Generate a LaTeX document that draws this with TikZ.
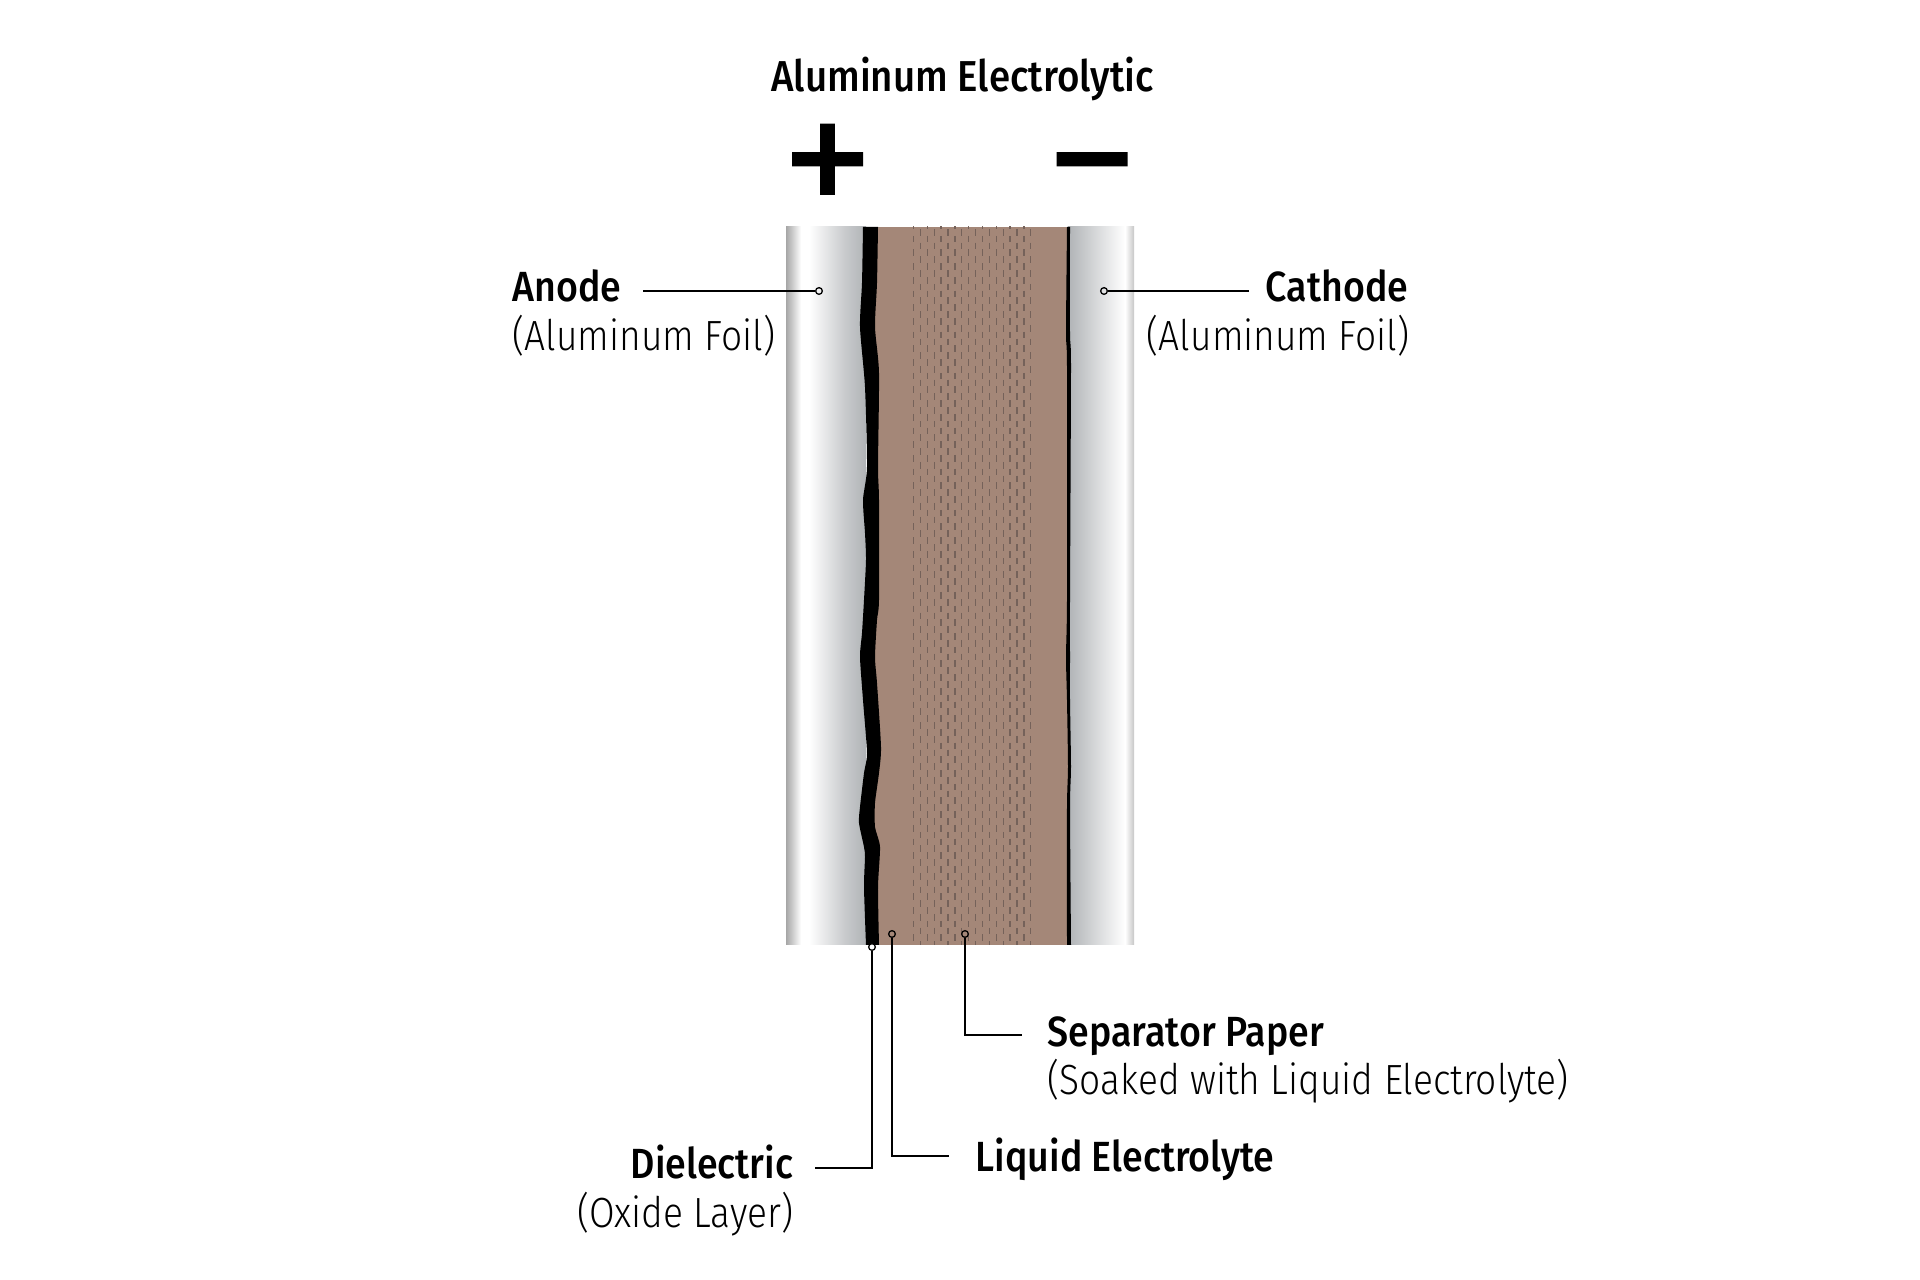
\documentclass[tikz,border=0pt]{standalone}
\usepackage{fontspec}
\setmainfont[UprightFont={Fira Sans Light},BoldFont={Fira Sans Medium},UprightFeatures={FakeStretch=0.88},BoldFeatures={FakeStretch=0.89}]{Fira Sans}
\newfontfamily\signfont[FakeBold=1.5]{DejaVu Sans Bold}
\definecolor{paperbrown}{HTML}{A48778}
\definecolor{dashbrown}{HTML}{75625A}
\definecolor{foilgrey}{HTML}{B0B3B6}
\definecolor{foilmid}{HTML}{C8CACC}
\tikzset{
	headlabel/.style={font=\fontsize{12pt}{14pt}\selectfont\bfseries, inner sep=0pt},
	sublabel/.style={font=\fontsize{12pt}{14pt}\selectfont, inner sep=0pt},
	titlelabel/.style={font=\fontsize{12.3pt}{14pt}\selectfont\bfseries, inner sep=0pt},
	signlabel/.style={font=\fontsize{31.5pt}{32pt}\signfont, inner sep=0pt, anchor=base},
	leaderline/.style={line width=0.37pt},
	leaderdot/.style={circle, draw, line width=0.37pt, minimum size=1.9pt, inner sep=0pt}
}

\begin{document}
\begin{tikzpicture}[x=0.01cm, y=-0.01cm]
	%%%%% START %%%%%
	\useasboundingbox (0, 0) rectangle (1920, 1280);

	% anode foil
	\shade[left color=black!35, right color=white] (786, 227) rectangle (801, 945);
	\fill[white] (801, 227) rectangle (809, 945);
	\shade[left color=white, right color=foilmid] (809, 227) rectangle (845, 945);
	\shade[left color=foilmid, right color=foilgrey] (845, 227) rectangle (866, 945);

	% cathode foil
	\shade[left color=foilgrey, right color=white] (1068, 227) rectangle (1125, 945);
	\shade[left color=white, right color=black!22] (1125, 227) rectangle (1134, 945);

	% paper with the electrolyte
	\fill[paperbrown] (870, 227) rectangle (1068, 945);
	\begin{scope}
		\clip (905, 227) rectangle (1040, 945);
		\foreach \col in {0, ..., 17} {
			\pgfmathsetmacro{\dashx}{913.5 + 6.9*\col}
			\pgfmathsetmacro{\dashshift}{mod(\col + 1, 2)*6.8}
			\foreach \row in {-1, ..., 52} {
				\pgfmathsetmacro{\dashy}{229 + \dashshift + 13.7*\row}
				\draw[dashbrown, line width=0.36pt] (\dashx, \dashy) -- (\dashx, \dashy + 6.7);
			}
		}
	\end{scope}

	% dielectric
	\fill[black] plot[smooth, tension=0.4] coordinates {(863, 227) (862, 283) (860, 327) (865, 387) (867, 467) (863, 500)
		(865, 533) (866, 560) (864, 600) (862, 633) (860, 657) (863, 700) (867, 753)
		(864, 773) (860, 807) (859, 823) (864, 847) (865, 857) (864, 887) (866, 945)}
		-- plot[smooth, tension=0.4] coordinates {(879, 945) (878, 887) (880, 847) (875, 827) (875, 803) (879, 773) (881, 747)
		(877, 683) (875, 657) (877, 620) (879, 600) (879, 500) (878, 467) (879, 373)
		(875, 327) (877, 283) (878, 227)} -- cycle;

	% thin layer on the cathode
	\fill[black] plot[smooth, tension=0.4] coordinates {(1067, 227) (1066, 333) (1067, 367) (1067, 600) (1066, 657) (1067, 700)
		(1068, 767) (1067, 807) (1067, 945)}
		-- plot[smooth, tension=0.4] coordinates {(1071, 945) (1070, 807) (1071, 767)
		(1070, 700) (1070, 657) (1070, 600) (1071, 367) (1070, 333) (1070, 227)} -- cycle;

	% polarity and title
	\node[titlelabel, anchor=base] (title) at (962.5, 92) {Aluminum Electrolytic};
	\node[signlabel] (plus) at (827.5, 194) {+};
	\node[signlabel] (minus) at (1092, 194) {−};

	% anode
	\node[headlabel, anchor=base west] (anode) at (512, 302) {Anode};
	\node[sublabel, anchor=base west] (anodefoil) at (512, 351) {(Aluminum Foil)};
	\node[leaderdot] (anodedot) at (819, 291) {};
	\coordinate (anodeend) at (643, 291);
	\draw[leaderline] (anodeend) -- (anodedot);

	% cathode
	\node[headlabel, anchor=base east] (cathode) at (1409, 302) {Cathode};
	\node[sublabel, anchor=base east] (cathodefoil) at (1410, 351) {(Aluminum Foil)};
	\node[leaderdot] (cathodedot) at (1104, 291) {};
	\coordinate (cathodeend) at (1249, 291);
	\draw[leaderline] (cathodeend) -- (cathodedot);

	% separator
	\node[headlabel, anchor=base west] (separator) at (1047, 1047) {Separator Paper};
	\node[sublabel, anchor=base west] (soaked) at (1047, 1095) {(Soaked with Liquid Electrolyte)};
	\node[leaderdot] (separatordot) at (965, 934) {};
	\coordinate (separatorend) at (1022, 1035);
	\draw[leaderline] (separatordot) |- (separatorend);

	% liquid
	\node[headlabel, anchor=base west] (liquid) at (975, 1172) {Liquid Electrolyte};
	\node[leaderdot] (liquiddot) at (892, 934) {};
	\coordinate (liquidend) at (949, 1156);
	\draw[leaderline] (liquiddot) |- (liquidend);

	% dielectric label
	\node[headlabel, anchor=base east] (dielectric) at (794, 1179) {Dielectric};
	\node[sublabel, anchor=base east] (oxide) at (794, 1228) {(Oxide Layer)};
	\node[leaderdot, fill=white] (dielectricdot) at (872, 947) {};
	\coordinate (dielectricend) at (815, 1168);
	\draw[leaderline] (dielectricdot) |- (dielectricend);
	%%%%% END %%%%%
\end{tikzpicture}
\end{document}
